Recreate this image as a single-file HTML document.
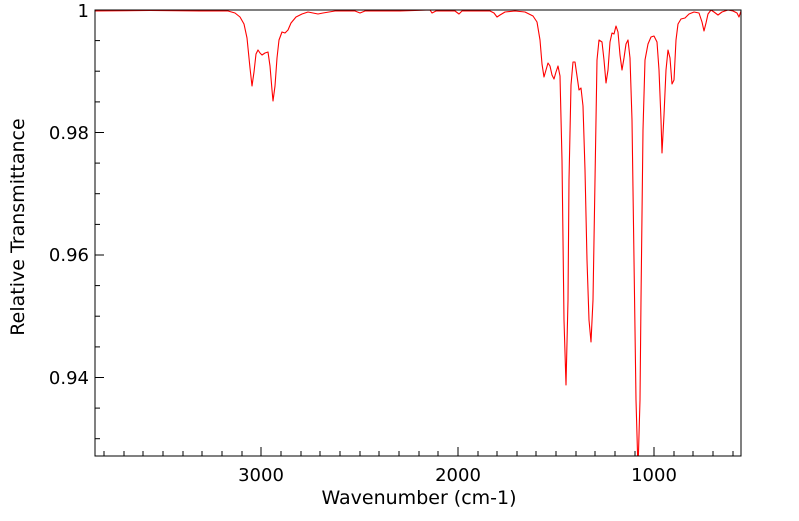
<!DOCTYPE html>
<html><head><meta charset="utf-8"><style>body{margin:0;background:#fff}</style></head><body>
<svg width="799" height="516" xmlns="http://www.w3.org/2000/svg" font-family="DejaVu Sans, Liberation Sans, sans-serif">
<defs><clipPath id="c"><rect x="95" y="10" width="646" height="446"/></clipPath></defs>
<g clip-path="url(#c)">
<polyline fill="none" stroke="#ff0000" stroke-width="1.1" stroke-linejoin="round" points="95,11 150,10.5 200,11 228,11 235,13 240,17 244,24 247,38 250,68 252,86 254,72 256,54 258,50 260,53 262,55 265,53 268,52 270,66 272,90 273,101 275,86 277,58 279,40 282,32 285,33 288,30 291,23 296,17 302,14 308,12 313,13 318,14 323,13 335,11 355,11 360,13 365,11 400,11 430,10 432,13 436,11 455,11 459,14 462,11 490,11 494,13 497,17 500,15 505,12 515,11 525,12 533,16 537,22 540,40 542,64 544,77 546,70 548,63 550,66 552,75 554,79 556,72 558,66 560,76 562,160 564,320 566,385 568,300 569,180 571,85 573,62 575,62 577,76 579,90 581,88 583,106 585,170 587,260 589,320 591,342 593,300 595,180 597,60 599,40 602,42 604,60 606,83 608,70 610,42 612,33 614,34 616,26 618,32 620,55 622,70 624,58 626,44 628,40 630,58 632,120 634,260 636,400 638,470 640,400 641,300 643,130 645,60 648,44 651,37 654,36 657,42 659,70 661,120 662,153 664,115 666,70 668,50 670,58 672,84 674,80 676,40 678,24 681,19 685,18 689,14 694,12 699,13 702,22 704,31 706,23 708,14 711,10 714,12 718,15 722,12 728,10 733,11 737,13 739,17 741,11"/>
</g>
<rect x="95" y="10" width="646" height="446" fill="none" stroke="#000" stroke-width="1"/>
<g stroke="#000" stroke-width="1">
<line x1="95" y1="132.5" x2="104" y2="132.5"/>
<line x1="95" y1="255" x2="104" y2="255"/>
<line x1="95" y1="377.5" x2="104" y2="377.5"/>
<line x1="95" y1="40.6" x2="100" y2="40.6"/><line x1="95" y1="71.2" x2="100" y2="71.2"/><line x1="95" y1="101.9" x2="100" y2="101.9"/>
<line x1="95" y1="163.1" x2="100" y2="163.1"/><line x1="95" y1="193.7" x2="100" y2="193.7"/><line x1="95" y1="224.4" x2="100" y2="224.4"/>
<line x1="95" y1="285.6" x2="100" y2="285.6"/><line x1="95" y1="316.2" x2="100" y2="316.2"/><line x1="95" y1="346.9" x2="100" y2="346.9"/>
<line x1="95" y1="408.1" x2="100" y2="408.1"/><line x1="95" y1="438.7" x2="100" y2="438.7"/>
<line x1="261" y1="456" x2="261" y2="447"/><line x1="458" y1="456" x2="458" y2="447"/><line x1="654" y1="456" x2="654" y2="447"/>
<line x1="104" y1="456" x2="104" y2="451"/><line x1="124" y1="456" x2="124" y2="451"/><line x1="143" y1="456" x2="143" y2="451"/><line x1="163" y1="456" x2="163" y2="451"/><line x1="183" y1="456" x2="183" y2="451"/><line x1="202" y1="456" x2="202" y2="451"/><line x1="222" y1="456" x2="222" y2="451"/><line x1="242" y1="456" x2="242" y2="451"/>
<line x1="281" y1="456" x2="281" y2="451"/><line x1="301" y1="456" x2="301" y2="451"/><line x1="320" y1="456" x2="320" y2="451"/><line x1="340" y1="456" x2="340" y2="451"/><line x1="360" y1="456" x2="360" y2="451"/><line x1="379" y1="456" x2="379" y2="451"/><line x1="399" y1="456" x2="399" y2="451"/><line x1="419" y1="456" x2="419" y2="451"/><line x1="438" y1="456" x2="438" y2="451"/>
<line x1="478" y1="456" x2="478" y2="451"/><line x1="497" y1="456" x2="497" y2="451"/><line x1="517" y1="456" x2="517" y2="451"/><line x1="536" y1="456" x2="536" y2="451"/><line x1="556" y1="456" x2="556" y2="451"/><line x1="576" y1="456" x2="576" y2="451"/><line x1="595" y1="456" x2="595" y2="451"/><line x1="615" y1="456" x2="615" y2="451"/><line x1="635" y1="456" x2="635" y2="451"/>
<line x1="674" y1="456" x2="674" y2="451"/><line x1="693" y1="456" x2="693" y2="451"/><line x1="713" y1="456" x2="713" y2="451"/><line x1="733" y1="456" x2="733" y2="451"/>
</g>
<g font-size="18" fill="#000">
<text x="89" y="17" text-anchor="end">1</text>
<text x="89" y="139" text-anchor="end">0.98</text>
<text x="89" y="261" text-anchor="end">0.96</text>
<text x="89" y="384" text-anchor="end">0.94</text>
<text x="261" y="481" text-anchor="middle">3000</text>
<text x="458" y="481" text-anchor="middle">2000</text>
<text x="654" y="481" text-anchor="middle">1000</text>
</g>
<g font-size="19" fill="#000">
<text x="419" y="504" text-anchor="middle">Wavenumber (cm-1)</text>
<text transform="translate(24,227) rotate(-90)" text-anchor="middle">Relative Transmittance</text>
</g>
</svg>
</body></html>
